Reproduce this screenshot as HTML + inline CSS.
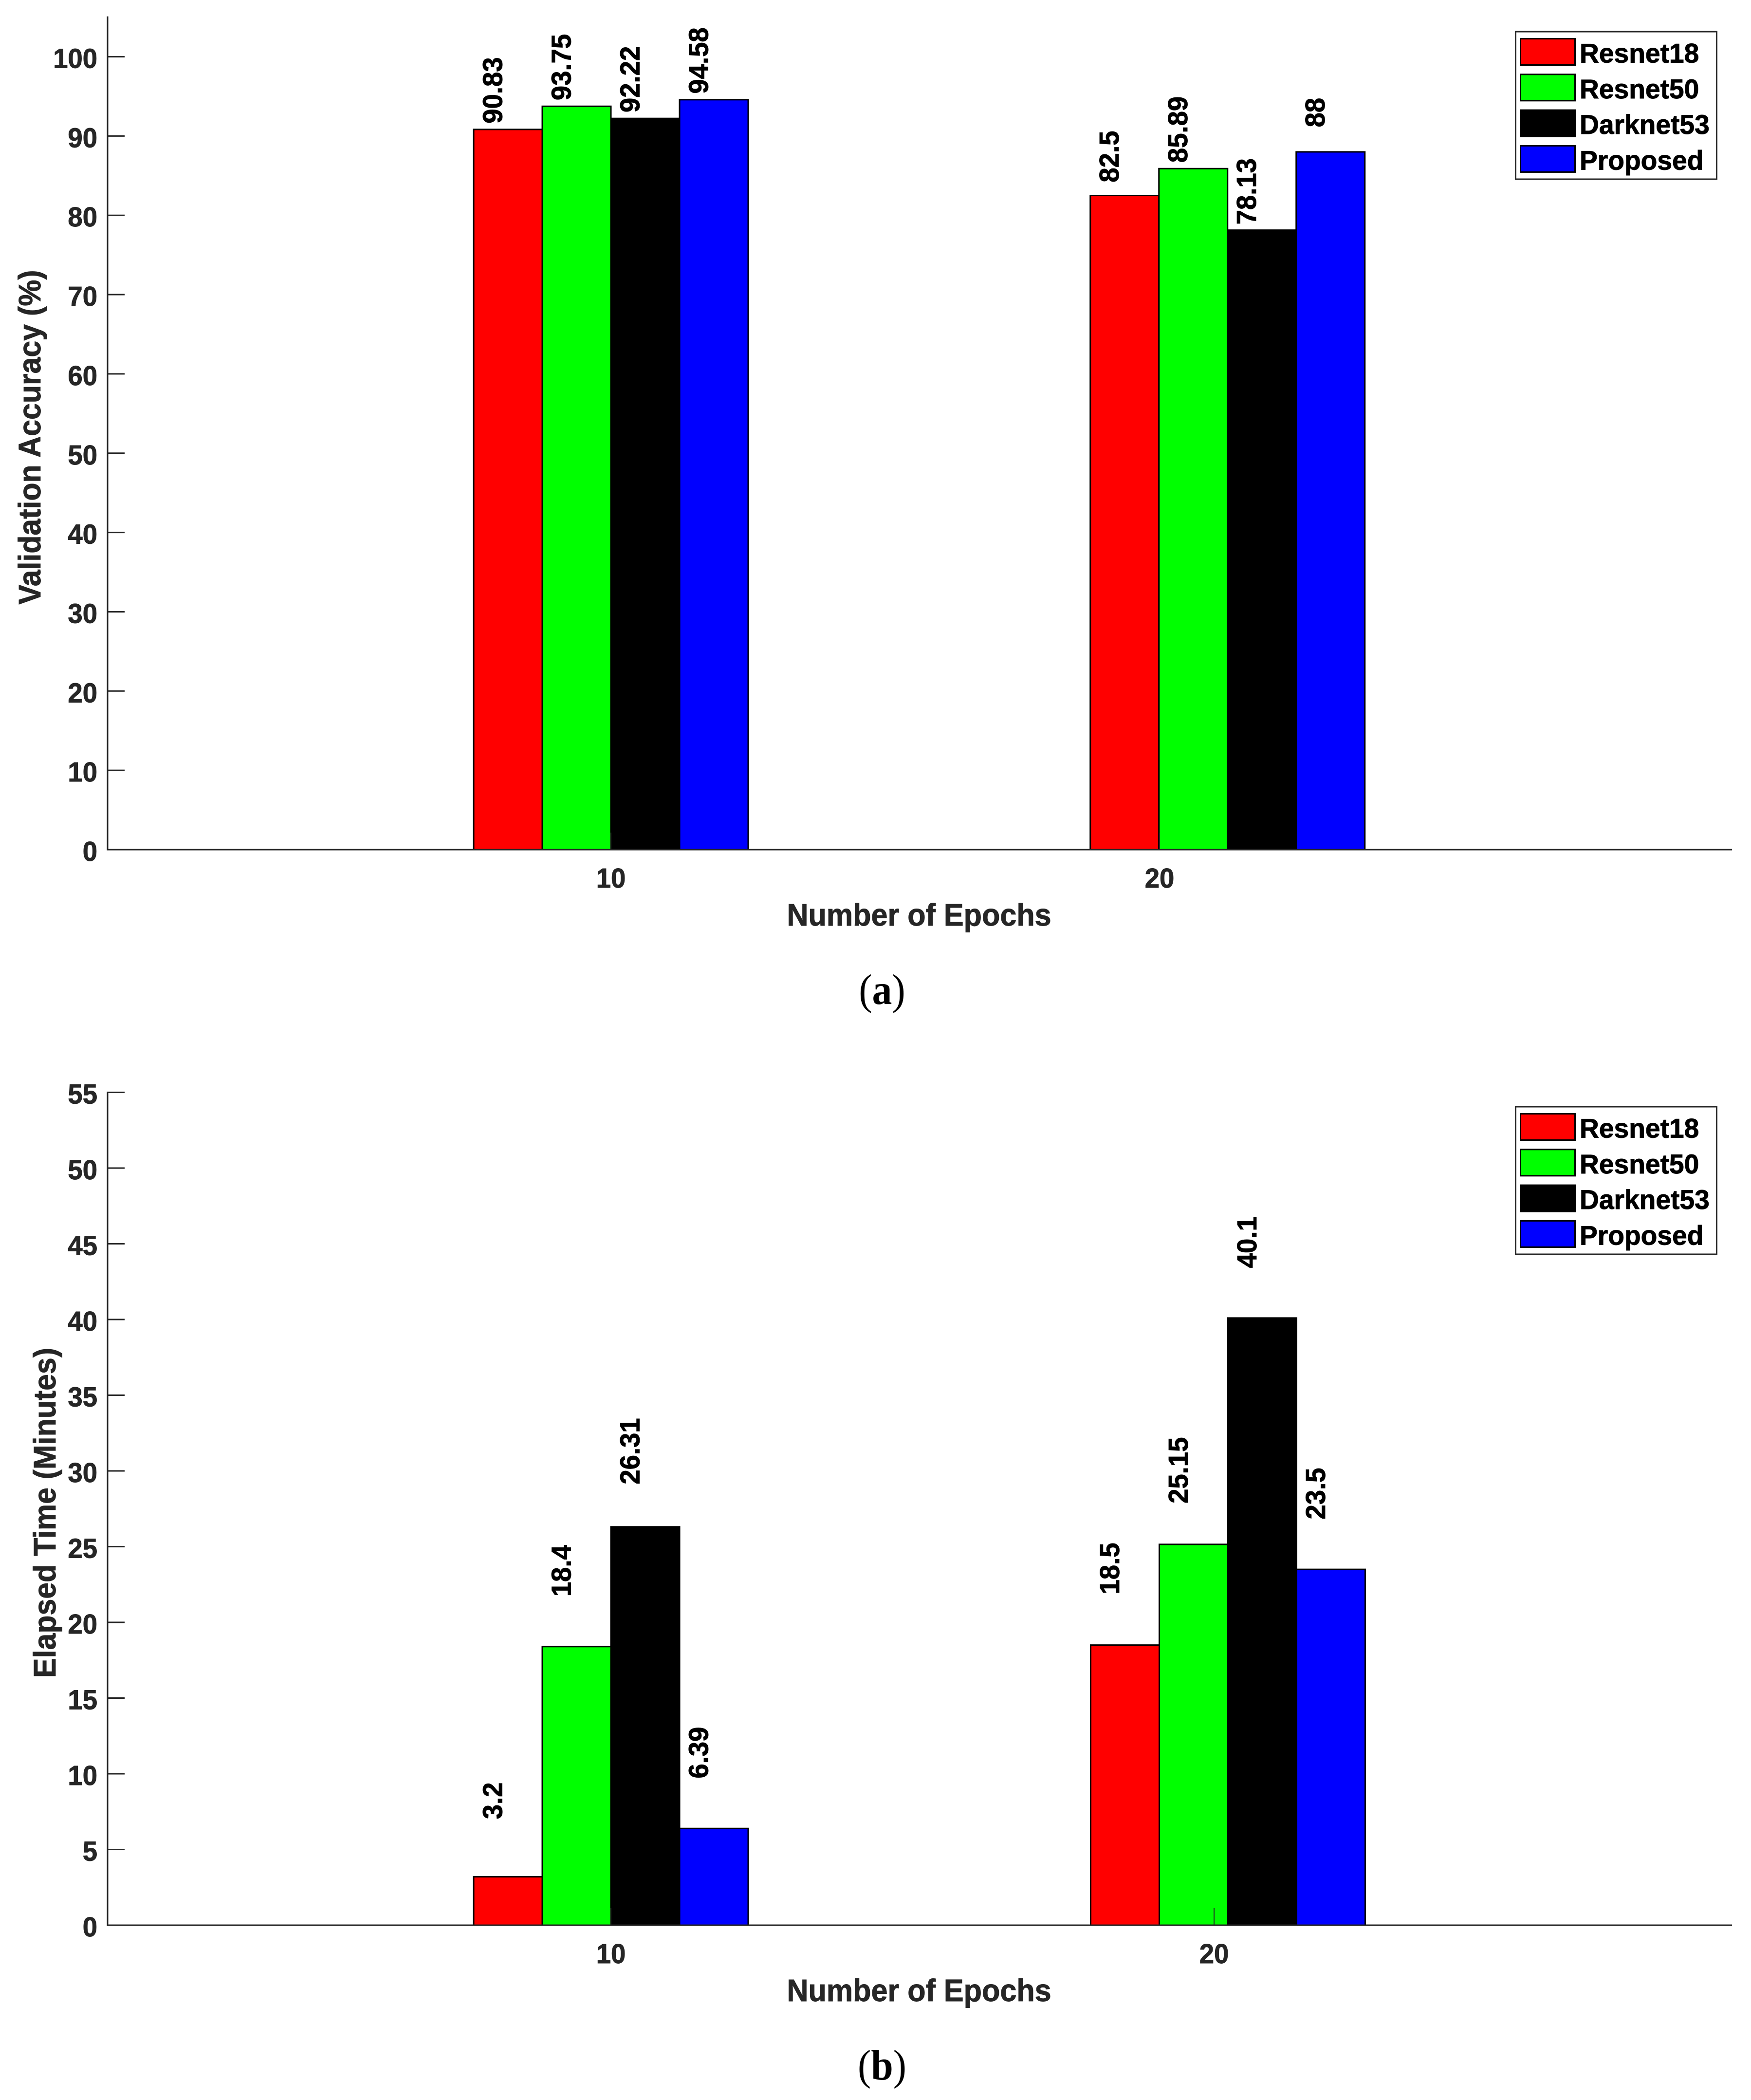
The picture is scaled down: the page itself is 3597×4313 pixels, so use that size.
<!DOCTYPE html>
<html>
<head>
<meta charset="utf-8">
<title>Validation accuracy and elapsed time by number of epochs</title>
<style>
html,body{margin:0;padding:0;background:#fff;width:3597px;height:4313px;overflow:hidden}
svg{display:block}
text{font-family:"Liberation Sans",sans-serif;font-weight:bold;stroke:currentColor;stroke-width:0.9px}
</style>
</head>
<body>
<svg id="figure" xmlns="http://www.w3.org/2000/svg" width="3597" height="4313" viewBox="0 0 3597 4313"></svg>
<script>
// ---- data ----
const seriesNames = ["Resnet18", "Resnet50", "Darknet53", "Proposed"];
const epochTicks = [10, 20];

const accuracyResnet18 = [90.83, 82.5];
const accuracyResnet50 = [93.75, 85.89];
const accuracyDarknet53 = [92.22, 78.13];
const accuracyProposed = [94.58, 88];
const accuracyTicks = [0, 10, 20, 30, 40, 50, 60, 70, 80, 90, 100];
const accuracyGroupX = [10, 21.24];
const accuracyLabelLift = [[0.75, 1.65], [0.75, 0.75], [0.75, 0.7], [0.75, 3.1]];

const timeResnet18 = [3.2, 18.5];
const timeResnet50 = [18.4, 25.15];
const timeDarknet53 = [26.31, 40.1];
const timeProposed = [6.39, 23.5];
const timeTicks = [0, 5, 10, 15, 20, 25, 30, 35, 40, 45, 50, 55];
const timeGroupX = [10, 20.23];
const timeLabelLift = [[3.8, 3.35], [3.3, 2.7], [2.8, 3.3], [3.3, 3.3]];

// ---- styling ----
const seriesColors = ["#ff0000", "#00ff00", "#000000", "#0000ff"];
const AXIS = "#262626";
const NS = "http://www.w3.org/2000/svg";
const svg = document.getElementById("figure");

function mk(parent, tag, attrs, content) {
  const el = document.createElementNS(NS, tag);
  for (const k in attrs) el.setAttribute(k, attrs[k]);
  if (content !== undefined) el.textContent = content;
  parent.appendChild(el);
  return el;
}
function squeeze(el, k) {
  const len = el.getComputedTextLength();
  el.setAttribute("textLength", (len * k).toFixed(1));
  el.setAttribute("lengthAdjust", "spacingAndGlyphs");
}

function drawChart(c) {
  const g = mk(svg, "g", {});
  
  

  const y = v => c.y0 - v * c.yUnit;
  const x = v => c.x10 + (v - 10) * c.xUnit;
  const barW = 141;

  // bars
  c.series.forEach((vals, s) => {
    vals.forEach((v, i) => {
      const center = x(c.groupX[i]);
      const left = center + (s - 2) * barW;
      const r = mk(g, "rect", {
        x: left, y: y(v), width: barW, height: c.y0 - y(v),
        fill: seriesColors[s], stroke: "#000", "stroke-width": 3
      });
      
      
      const bx = left + barW / 2 - 12;
      const by = y(v + c.lift[s][i]);
      const t = mk(g, "text", {
        transform: "translate(" + bx + " " + by + ") rotate(-90)",
        "font-size": 57, fill: "#000", color: "#000"
      }, String(v));
      
      
      squeeze(t, 0.955);
    });
  });

  // y axis
  const yTop = y(c.yMax);
  const yLine = mk(g, "line", { x1: c.xLeft, y1: yTop - 1.5, x2: c.xLeft, y2: c.y0 + 1.5, stroke: AXIS, "stroke-width": 3 });
  
  
  c.yTicks.forEach(v => {
    const tk = mk(g, "line", { x1: c.xLeft, y1: y(v), x2: c.xLeft + 35, y2: y(v), stroke: AXIS, "stroke-width": 3 });
    
    
    const lb = mk(g, "text", { x: 200, y: y(v) + 23, "text-anchor": "end", "font-size": 57, fill: AXIS, color: AXIS }, String(v));
    
    
    squeeze(lb, 0.955);
  });

  // x axis
  const xLine = mk(g, "line", { x1: c.xLeft, y1: c.y0, x2: c.xRight, y2: c.y0, stroke: AXIS, "stroke-width": 3 });
  
  
  epochTicks.forEach(v => {
    const tk = mk(g, "line", { x1: x(v), y1: c.y0, x2: x(v), y2: c.y0 - 35, stroke: AXIS, "stroke-width": 2 });
    
    
    const lb = mk(g, "text", { x: x(v), y: c.y0 + 78, "text-anchor": "middle", "font-size": 57, fill: AXIS, color: AXIS }, String(v));
    
    
    squeeze(lb, 0.955);
  });

  // axis titles
  const xt = mk(g, "text", { x: 1888, y: c.y0 + 156, "text-anchor": "middle", "font-size": 64, fill: AXIS, color: AXIS }, "Number of Epochs");
  
  
  squeeze(xt, 0.955);

  const yt = mk(g, "text", {
    transform: "translate(" + c.yTitleX + " " + c.yTitleY + ") rotate(-90)",
    "text-anchor": "middle", "font-size": 64, fill: AXIS, color: AXIS
  }, c.yTitle);
  
  
  squeeze(yt, 0.95);

  // legend
  const lg = mk(g, "g", {});
  
  
  const box = mk(lg, "rect", { x: 3113.5, y: c.legendTop, width: 413, height: 303, fill: "#fff", stroke: AXIS, "stroke-width": 3 });
  
  
  seriesNames.forEach((name, s) => {
    const cy = c.legendTop + 41.5 + s * 73.3;
    const sw = mk(lg, "rect", { x: 3123.5, y: cy - 27, width: 112, height: 54, fill: seriesColors[s], stroke: "#000", "stroke-width": 3 });
    
    
    const tx = mk(lg, "text", { x: 3245, y: cy + 22, "font-size": 56, fill: "#000", color: "#000" }, name);
    
    
    squeeze(tx, 0.985);
  });

  // caption
  const cap = mk(g, "text", {
    x: 1812, y: c.captionY, "text-anchor": "middle", "font-size": 88, fill: "#000",
    style: 'font-family:"Liberation Serif",serif;font-weight:normal;stroke:none'
  });
  
  
  mk(cap, "tspan", {}, "(");
  mk(cap, "tspan", { style: "font-weight:bold" }, c.id === "accuracy" ? "a" : "b");
  mk(cap, "tspan", {}, ")");
  squeeze(cap, 0.93);
}

drawChart({
  id: "accuracy",
  series: [accuracyResnet18, accuracyResnet50, accuracyDarknet53, accuracyProposed],
  lift: accuracyLabelLift, groupX: accuracyGroupX, yTicks: accuracyTicks,
  yMax: 105, y0: 1745, yUnit: 16.285, x10: 1255, xUnit: 112.7,
  xLeft: 221, xRight: 3558,
  yTitle: "Validation Accuracy (%)", yTitleX: 83, yTitleY: 898,
  legendTop: 65, captionY: 2062
});
drawChart({
  id: "time",
  series: [timeResnet18, timeResnet50, timeDarknet53, timeProposed],
  lift: timeLabelLift, groupX: timeGroupX, yTicks: timeTicks,
  yMax: 55, y0: 3954, yUnit: 31.1, x10: 1255, xUnit: 123.9,
  xLeft: 221, xRight: 3558,
  yTitle: "Elapsed Time (Minutes)", yTitleX: 114, yTitleY: 3107,
  legendTop: 2273, captionY: 4271
});
</script>
</body>
</html>
